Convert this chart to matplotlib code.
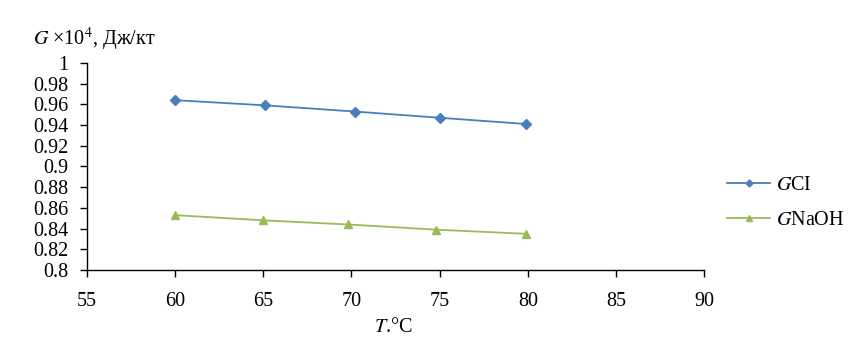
import matplotlib
matplotlib.use("Agg")
import matplotlib.pyplot as plt

plt.rcParams['font.family'] = ['Liberation Serif', 'DejaVu Serif']
plt.rcParams['mathtext.fontset'] = 'stix'

# temperature, C
t_cl = [60.0, 65.1, 70.2, 75.0, 79.9]
g_cl = [0.964, 0.959, 0.953, 0.947, 0.941]
t_naoh = [60.0, 65.0, 69.8, 74.8, 79.9]
g_naoh = [0.853, 0.848, 0.844, 0.839, 0.835]

xticks = [55, 60, 65, 70, 75, 80, 85, 90]
yticks = [0.8, 0.82, 0.84, 0.86, 0.88, 0.9, 0.92, 0.94, 0.96, 0.98, 1.0]
ylabels = ['0.8', '0.82', '0.84', '0.86', '0.88', '0.9', '0.92', '0.94', '0.96', '0.98', '1']

fig = plt.figure(figsize=(8.6, 3.38), dpi=100)
ax = fig.add_axes([0.101, 0.201, 0.718, 0.613])

ax.plot(t_cl, g_cl, color='#4A7EBB', lw=1.3, marker='D', ms=5, label='$G$CI')
ax.plot(t_naoh, g_naoh, color='#9BBB59', lw=1.3, marker='^', ms=6, label='$G$NaOH')

ax.set_xlim(55, 90)
ax.set_ylim(0.8, 1.0)
ax.set_xticks(xticks)
ax.set_yticks(yticks)
ax.set_yticklabels(ylabels)
ax.tick_params(direction='out', length=5, width=1, labelsize=14.5, color='#000000')
ax.tick_params(axis='x', pad=11)
ax.tick_params(axis='y', pad=8)
for s in ['top', 'right']:
    ax.spines[s].set_visible(False)
for s in ['left', 'bottom']:
    ax.spines[s].set_linewidth(1.0)

fig.text(0.038, 0.867, '$G$ ×10$^4$, Дж/кт', fontsize=14.5, va='baseline')
fig.text(0.457, 0.018, '$T$.°C', fontsize=14.5, ha='center')

ax.legend(loc='center left', bbox_to_anchor=(1.008, 0.325), frameon=False,
          fontsize=14.5, handlelength=2.1, markerscale=0.7, labelspacing=0.8,
          handletextpad=0.3)

fig.savefig('out.png', dpi=100)
